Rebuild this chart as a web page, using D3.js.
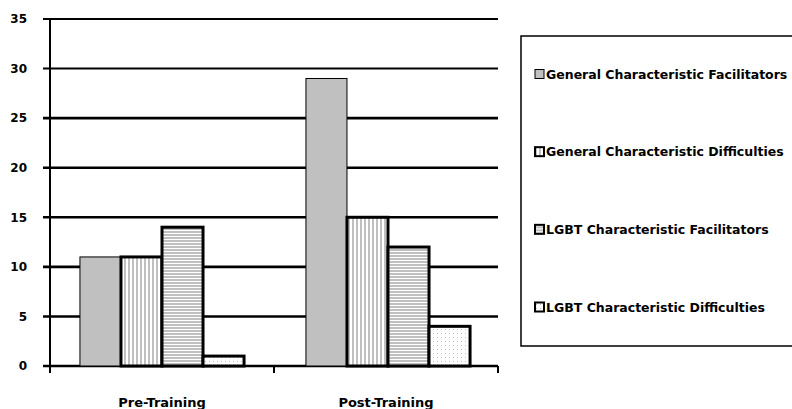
<!DOCTYPE html>
<html>
<head>
<meta charset="utf-8">
<script src="https://cdn.jsdelivr.net/npm/d3@7"></script>
<style>
html,body{margin:0;padding:0;background:#fff;}
svg{display:block;}
text{font-family:"DejaVu Sans",sans-serif;font-weight:bold;fill:#000;}
</style>
</head>
<body>
<svg id="chart" width="792" height="409"></svg>
<script>
const categories = ["Pre-Training", "Post-Training"];
const seriesNames = [
  "General Characteristic Facilitators",
  "General Characteristic Difficulties",
  "LGBT Characteristic Facilitators",
  "LGBT Characteristic Difficulties"
];
const genFacilitators = [11, 29];
const genDifficulties = [11, 15];
const lgbtFacilitators = [14, 12];
const lgbtDifficulties = [1, 4];
const yTicks = [0, 5, 10, 15, 20, 25, 30, 35];

const seriesValues = [genFacilitators, genDifficulties, lgbtFacilitators, lgbtDifficulties];
const fills = ["url(#solidGray)", "url(#vstripe)", "url(#hstripe)", "url(#dots)"];
const strokeW = [1, 3, 3, 3];

const svg = d3.select("#chart");
const defs = svg.append("defs");

// patterns
const pSolid = defs.append("pattern").attr("id","solidGray").attr("patternUnits","userSpaceOnUse").attr("width",4).attr("height",4);
pSolid.append("rect").attr("width",4).attr("height",4).attr("fill","#c0c0c0");

const pV = defs.append("pattern").attr("id","vstripe").attr("patternUnits","userSpaceOnUse").attr("width",4).attr("height",4);
pV.append("rect").attr("width",4).attr("height",4).attr("fill","#fff");
pV.append("rect").attr("width",2).attr("height",4).attr("fill","#c0c0c0");

const pH = defs.append("pattern").attr("id","hstripe").attr("patternUnits","userSpaceOnUse").attr("width",4).attr("height",3);
pH.append("rect").attr("width",4).attr("height",3).attr("fill","#fff");
pH.append("rect").attr("width",4).attr("height",2).attr("fill","#c0c0c0");

const pD = defs.append("pattern").attr("id","dots").attr("patternUnits","userSpaceOnUse").attr("width",4).attr("height",4);
pD.append("rect").attr("width",4).attr("height",4).attr("fill","#fff");
pD.append("rect").attr("x",1).attr("y",1).attr("width",1).attr("height",1).attr("fill","#bdbdbd");

const x = d3.scaleBand().domain(categories).range([50, 498]).paddingInner(0).paddingOuter(0);
const xs = d3.scaleBand().domain(seriesNames).range([0, x.bandwidth()]).paddingInner(0).paddingOuter(0.73);
const y = d3.scaleLinear().domain([0, 35]).range([366, 19]);

// gridlines
svg.append("g").selectAll("line").data(yTicks).join("line")
  .attr("x1", 43).attr("x2", 498)
  .attr("y1", d => y(d)).attr("y2", d => y(d))
  .attr("stroke", "#000").attr("stroke-width", d => d >= 30 ? 2 : 2.6);

// y axis
const yAxis = d3.axisLeft(y).tickValues(yTicks).tickSize(0).tickPadding(0).tickFormat(d3.format("d"));
const gy = svg.append("g").attr("transform","translate(27,0)").call(yAxis);
gy.select(".domain").remove();
gy.selectAll("text").attr("font-size", 12).attr("font-family","DejaVu Sans").attr("font-weight","bold").attr("fill","#000");

svg.append("line").attr("x1",50).attr("x2",50).attr("y1",y(35)).attr("y2",373)
  .attr("stroke","#000").attr("stroke-width",2);

// x axis ticks
const xTickPos = [x.range()[0], ...categories.map(c => x(c) + x.bandwidth())];
svg.append("g").selectAll("line").data(xTickPos).join("line")
  .attr("x1", d => d).attr("x2", d => d).attr("y1", y(0)).attr("y2", 373)
  .attr("stroke","#000").attr("stroke-width",2);

// bars
const bars = [];
categories.forEach((c, ci) => {
  seriesNames.forEach((s, si) => {
    bars.push({c, ci, s, si, v: seriesValues[si][ci]});
  });
});
const groupShift = [0, 2];
svg.append("g").selectAll("rect").data(bars.sort((a,b)=>a.si===0?-1:(b.si===0?1:0))).join("rect")
  .attr("x", d => x(d.c) + xs(d.s) + groupShift[d.ci])
  .attr("y", d => y(d.v))
  .attr("width", xs.bandwidth())
  .attr("height", d => y(0) - y(d.v))
  .attr("fill", d => fills[d.si])
  .attr("stroke", "#000")
  .attr("stroke-width", d => strokeW[d.si]);

// category labels
svg.append("g").selectAll("text").data(categories).join("text")
  .attr("x", d => x(d) + x.bandwidth()/2)
  .attr("y", 407)
  .attr("text-anchor","middle")
  .attr("font-size", 13)
  .text(d => d);

// legend
svg.append("rect").attr("x",521).attr("y",36).attr("width",290).attr("height",310)
  .attr("fill","#fff").attr("stroke","#000").attr("stroke-width",1.5);
const legY = d3.scalePoint().domain(seriesNames).range([74, 307]);
const lg = svg.append("g").selectAll("g").data(seriesNames).join("g")
  .attr("transform", d => `translate(535,${legY(d)})`);
lg.append("rect").attr("x",0).attr("y",-4.5).attr("width",9).attr("height",9)
  .attr("fill",(d,i)=>fills[i]).attr("stroke","#000").attr("stroke-width",(d,i)=>i===0?1:2);
lg.append("text").attr("x",11).attr("y",0).attr("dy","0.36em").attr("font-size",12.5)
  .text(d => d);
</script>
</body>
</html>
